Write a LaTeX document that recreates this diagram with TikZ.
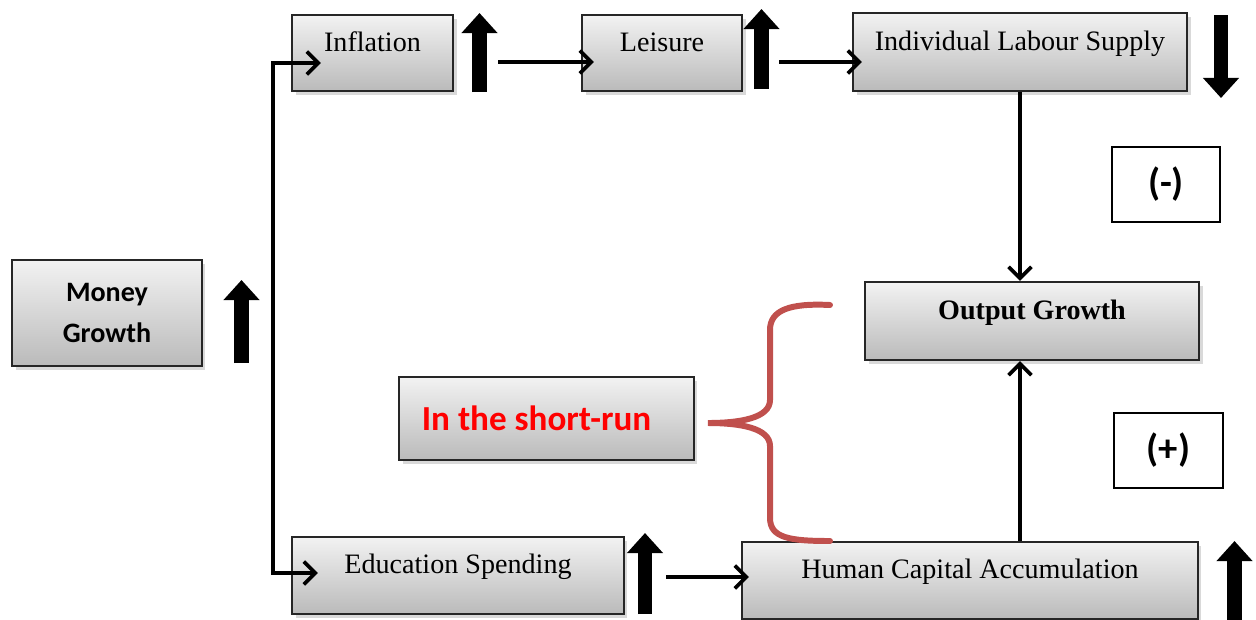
\documentclass[tikz,border=0pt]{standalone}
\usepackage{fontspec}
\setmainfont{Liberation Serif}
\newfontfamily\calibri{Carlito}
\usetikzlibrary{arrows.meta,shadows}

\definecolor{bracered}{RGB}{192,80,77}

\begin{document}
\begin{tikzpicture}[x=0.02cm,y=-0.02cm,>={Straight Barb[length=6.5pt,width=13pt]},
                    conn/.style={->,line width=2.1pt},
                    bigarr/.style={line width=8.5pt,-{Triangle[length=11.5pt,width=20pt]}}]
  \tikzstyle{box}=[draw=black!85,line width=1.3pt,top color=black!5,bottom color=black!27,
                   drop shadow={shadow xshift=2pt,shadow yshift=-2pt,opacity=0.3},
                   font=\fontsize{16}{19}\selectfont,text height=0.45cm,text depth=0.53cm]
  \tikzstyle{signbox}=[draw=black,line width=1pt,fill=white,minimum width=2.17cm,minimum height=1.5cm,
                       font=\calibri\bfseries\fontsize{22}{26}\selectfont]

  \useasboundingbox (0,0) rectangle (1256,619);

  % boxes
  \node[box,minimum width=3.8cm,minimum height=2.12cm,align=center,text height=,text depth=,
        font=\calibri\bfseries\fontsize{16}{23}\selectfont]  (money)  at (107,313)    {Money\\Growth};
  \node[box,minimum width=3.22cm,minimum height=1.52cm]      (infl)   at (372.5,53)   {Inflation};
  \node[box,minimum width=3.2cm,minimum height=1.52cm]       (leis)   at (662,53)     {Leisure};
  \node[box,minimum width=6.68cm,minimum height=1.56cm]      (labour) at (1020,52)    {Individual Labour Supply};
  \node[box,minimum width=6.68cm,minimum height=1.56cm,font=\bfseries\fontsize{16}{19}\selectfont]
                                                             (output) at (1032,321)   {Output Growth};
  \node[box,minimum width=9.12cm,minimum height=1.54cm]      (human)  at (970,580.5)  {Human Capital Accumulation};
  \node[box,minimum width=6.64cm,minimum height=1.54cm]      (edu)    at (458,575.5)  {Education Spending};
  \node[box,minimum width=5.9cm,minimum height=1.66cm,text height=,text depth=,text=red,
        font=\calibri\bfseries\fontsize{20}{24}\selectfont] (srun)   at (546.5,418.5) {\hspace*{-0.4cm}In the short-run};
  \node[signbox]                                             (minus)  at (1166,184.5) {(-)};
  \node[signbox]                                             (plus)   at (1168.5,450.5) {(+)};

  % up and down arrows
  \draw[bigarr] (241.5,363) -- (241.5,280);
  \draw[bigarr] (479.5,92)  -- (479.5,13);
  \draw[bigarr] (761.5,89)  -- (761.5,9);
  \draw[bigarr] (1221,15)   -- (1221,98);
  \draw[bigarr] (645,614)   -- (645,533);
  \draw[bigarr] (1234.5,624) -- (1234.5,541);

  % connectors
  \coordinate (fork) at (273,318);
  \draw[conn] (fork) |- ([xshift=0.6cm,yshift=-0.2cm]infl.west);
  \draw[conn] (fork) |- ([xshift=0.54cm,yshift=0.05cm]edu.west);
  \draw[conn] ([xshift=0.88cm,yshift=-0.18cm]infl.east) -- ([xshift=0.26cm,yshift=-0.18cm]leis.west);
  \draw[conn] ([xshift=0.72cm,yshift=-0.18cm]leis.east) -- ([xshift=0.2cm,yshift=-0.2cm]labour.west);
  \draw[conn] ([xshift=0.82cm,yshift=-0.03cm]edu.east) -- ([xshift=0.16cm,yshift=0.07cm]human.west);
  \draw[conn] (labour.south) -- (labour.south |- output.north);
  \draw[conn] (human.north -| labour.south) -- (output.south -| labour.south);

  % brace
  \draw[bracered,line width=3.4pt,line cap=round]
    (830,305) .. controls (790,303) and (770,310) .. (770,330) -- (770,400)
    .. controls (770,418) and (740,423) .. (708,423)
    .. controls (740,423) and (770,428) .. (770,446) -- (770,518)
    .. controls (770,538) and (790,541) .. (830,541);
\end{tikzpicture}
\end{document}
